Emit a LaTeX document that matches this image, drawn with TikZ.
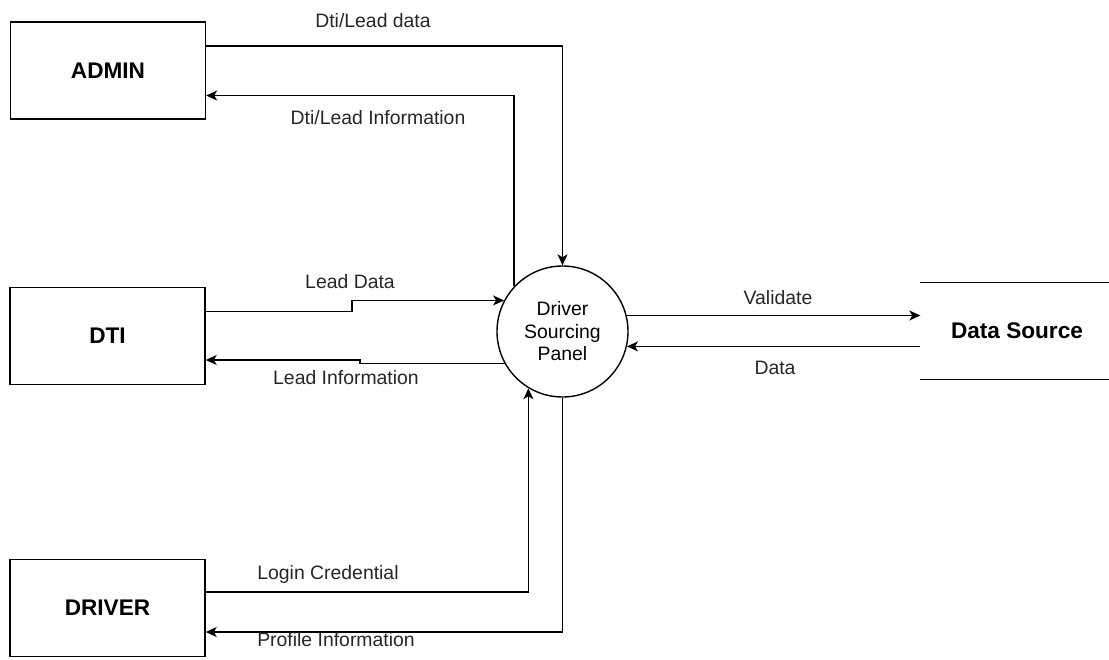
\documentclass[tikz,border=0pt]{standalone}
\usepackage{fontspec}
\setmainfont{Liberation Sans}
\usetikzlibrary{arrows.meta}

\begin{document}
\begin{tikzpicture}[x=1pt,y=-1pt,
  line width=1.4pt,
  entity/.style={draw, rectangle, minimum width=195pt, minimum height=97pt,
    inner sep=0pt, font=\fontsize{22.6}{26}\selectfont\bfseries},
  process/.style={draw, circle, minimum size=131pt, inner sep=0pt, align=center,
    font=\fontsize{19.4}{22.5}\selectfont},
  store/.style={rectangle, minimum width=188pt, minimum height=96pt, inner sep=0pt,
    font=\fontsize{22.6}{26}\selectfont\bfseries},
  flowlabel/.style={inner sep=0pt, text=black!85, font=\fontsize{19.4}{22.5}\selectfont},
  flow/.style={-{Stealth[length=11pt,width=10pt,inset=3pt]}}
]
\useasboundingbox (0,0) rectangle (1109,659);

% external entities
\node[entity] (admin)  at (108,70.5) {ADMIN};
\node[entity] (dti)    at (107.5,336) {DTI};
\node[entity] (driver) at (107.5,608) {DRIVER};

% central process
\node[process] (dsp) at (562.5,331.5) {Driver\\Sourcing\\Panel};

% data store (open-ended, two horizontal lines)
\node[store] (ds) at (1015,331) {\hspace*{4pt}Data Source};
\draw (ds.north west) -- (ds.north east);
\draw (ds.south west) -- (ds.south east);

% step points on the DTI flows
\coordinate (ldstep) at (352,306);
\coordinate (listep) at (360,362);

% flows
\draw[flow] ([yshift=24.5pt]admin.east) -| (dsp.north);
\draw[flow] (dsp.137.8) |- ([yshift=-25pt]admin.east);

\draw[flow] ([yshift=24.5pt]dti.east) -| (ldstep) |- (dsp.152.2);
\draw[flow] (dsp.209.2) -| (listep) |- ([yshift=-24pt]dti.east);

\draw[flow] (dsp.14.6) -- (dsp.14.6 -| ds.west);
\draw[flow] (dsp.-13.7 -| ds.west) -- (dsp.-13.7);

\draw[flow] ([yshift=16pt]driver.east) -| (dsp.239.3);
\draw[flow] (dsp.south) |- ([yshift=-24pt]driver.east);

% flow labels
\node[flowlabel] (l1) at (373,21)  {Dti/Lead data};
\node[flowlabel] (l2) at (378,118) {Dti/Lead Information};
\node[flowlabel] (l3) at (350,282) {Lead Data};
\node[flowlabel] (l4) at (346,378) {Lead Information};
\node[flowlabel] (l5) at (778,298) {Validate};
\node[flowlabel] (l6) at (775,368) {Data};
\node[flowlabel] (l7) at (328,574) {Login Credential};
\node[flowlabel] (l8) at (336,640) {Profile Information};
\end{tikzpicture}
\end{document}
